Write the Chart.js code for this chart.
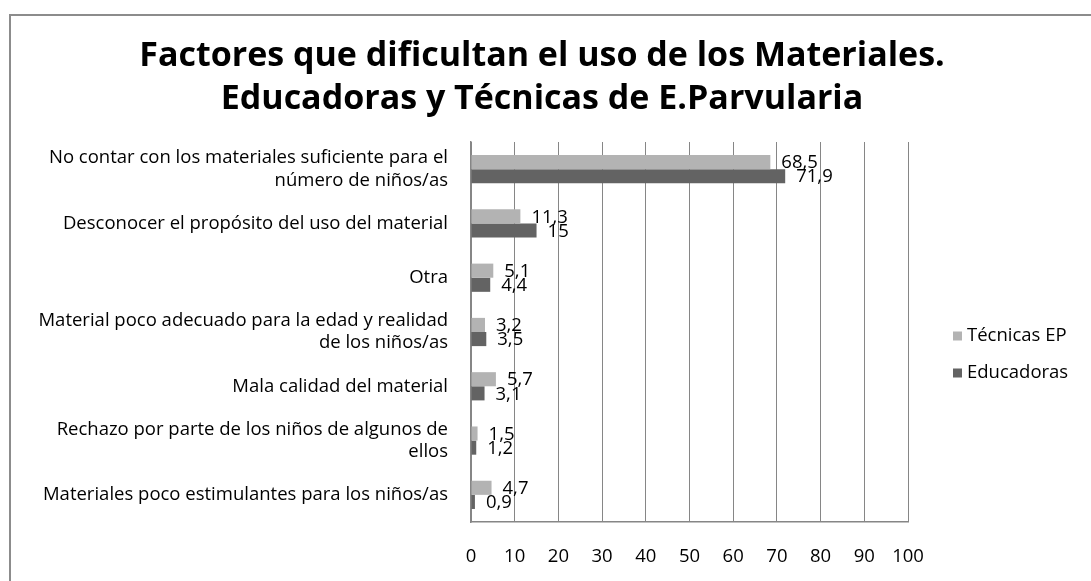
<!DOCTYPE html>
<html>
<head>
<meta charset="utf-8">
<script src="https://cdn.jsdelivr.net/npm/chart.js@4.4.0/dist/chart.umd.min.js"></script>
<style>
  body { margin: 0; background: #fff; }
  #wrap {
    position: absolute; left: 9px; top: 14px;
    width: 1082px; height: 567px;
    border-top: 2px solid #8c8c8c; border-left: 2px solid #8c8c8c;
    box-sizing: border-box;
  }
  #chart1 { position: absolute; left: -2px; top: -2px; }
</style>
</head>
<body>
<div id="wrap"><canvas id="chart1" width="1082" height="567"></canvas></div>
<script>
var categories = [
  ['No contar con los materiales suficiente para el', 'número de niños/as'],
  'Desconocer el propósito del uso del material',
  'Otra',
  ['Material poco adecuado para la edad y realidad', 'de los niños/as'],
  'Mala calidad del material',
  ['Rechazo por parte de los niños de algunos de', 'ellos'],
  'Materiales poco estimulantes para los niños/as'
];
var tecnicas = [68.5, 11.3, 5.1, 3.2, 5.7, 1.5, 4.7];
var educadoras = [71.9, 15, 4.4, 3.5, 3.1, 1.2, 0.9];
var xTicks = [0, 10, 20, 30, 40, 50, 60, 70, 80, 90, 100];
var titleLines = ['Factores que dificultan el uso de los Materiales.', 'Educadoras y Técnicas de E.Parvularia'];

const fontName = "'Open Sans', sans-serif";
const txtSize = 18.5;

// two line bold title, centred on the whole picture
const bigTitle = {
  id: 'bigTitle',
  afterDraw(chart) {
    const {ctx} = chart;
    ctx.save();
    ctx.font = 'bold 34px ' + fontName;
    ctx.fillStyle = '#000';
    ctx.textAlign = 'center';
    ctx.textBaseline = 'middle';
    titleLines.forEach((line, i) => {
      ctx.fillText(line, chart.width / 2 - 8, 42 + i * 43);
    });
    ctx.restore();
  }
};

// value labels at the end of each bar, decimal comma
const valueLabels = {
  id: 'valueLabels',
  afterDatasetsDraw(chart) {
    const {ctx} = chart;
    ctx.save();
    ctx.font = txtSize + 'px ' + fontName;
    ctx.fillStyle = '#000';
    ctx.textBaseline = 'middle';
    ctx.textAlign = 'left';
    chart.data.datasets.forEach((ds, di) => {
      chart.getDatasetMeta(di).data.forEach((bar, i) => {
        const txt = String(ds.data[i]).replace('.', ',');
        ctx.fillText(txt, bar.x + 11, bar.y + 1);
      });
    });
    ctx.restore();
  }
};

// legend on the right, squares like the office chart
const sideLegend = {
  id: 'sideLegend',
  afterDraw(chart) {
    const {ctx, chartArea} = chart;
    ctx.save();
    ctx.font = txtSize + 'px ' + fontName;
    ctx.textBaseline = 'middle';
    ctx.textAlign = 'left';
    chart.data.datasets.forEach((ds, i) => {
      const y = chartArea.top + 194 + i * 37;
      const x = chartArea.right + 45;
      ctx.fillStyle = ds.backgroundColor;
      ctx.fillRect(x, y - 4.5, 9, 9);
      ctx.fillStyle = '#000';
      ctx.fillText(ds.label, x + 14, y);
    });
    ctx.restore();
  }
};

new Chart('chart1', {
  type: 'bar',
  data: {
    labels: categories,
    datasets: [{
      label: 'Técnicas EP',
      data: tecnicas,
      backgroundColor: '#b3b3b3',
      categoryPercentage: 0.52,
      barPercentage: 1
    }, {
      label: 'Educadoras',
      data: educadoras,
      backgroundColor: '#636363',
      categoryPercentage: 0.52,
      barPercentage: 1
    }]
  },
  options: {
    indexAxis: 'y',
    responsive: false,
    animation: false,
    layout: { padding: { left: 0, right: 183, top: 128, bottom: 0 } },
    plugins: {
      legend: { display: false },
      tooltip: { enabled: false },
      title: { display: false }
    },
    scales: {
      x: {
        min: 0,
        max: 100,
        afterBuildTicks(scale) { scale.ticks = xTicks.map(v => ({ value: v })); },
        afterFit(scale) { scale.height = 59; },
        grid: { color: '#868686', lineWidth: 1, drawTicks: false },
        border: { display: true, color: '#868686', width: 1.5 },
        ticks: { color: '#000', padding: 24, font: { family: fontName, size: txtSize } }
      },
      y: {
        afterFit(scale) { scale.width = 462; },
        grid: { display: false, drawTicks: false },
        border: { display: true, color: '#868686', width: 1.5 },
        ticks: { color: '#000', padding: 23, font: { family: fontName, size: txtSize, lineHeight: 1.2 } }
      }
    }
  },
  plugins: [valueLabels, sideLegend, bigTitle]
});
</script>
</body>
</html>
